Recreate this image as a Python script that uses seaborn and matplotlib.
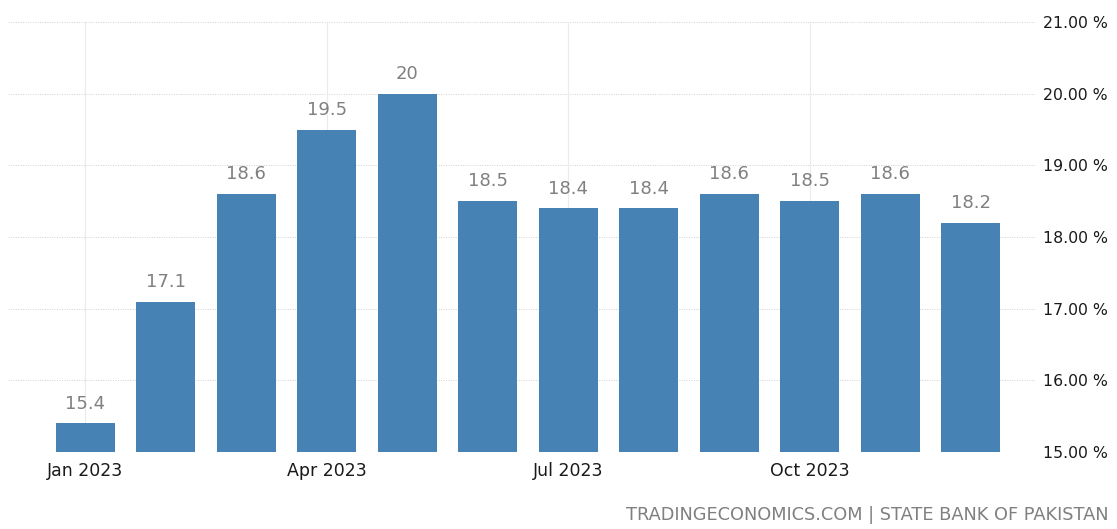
import matplotlib
matplotlib.use("Agg")
import matplotlib.pyplot as plt
import seaborn as sns
import pandas as pd

months = ["Jan 2023", "Feb 2023", "Mar 2023", "Apr 2023", "May 2023", "Jun 2023",
          "Jul 2023", "Aug 2023", "Sep 2023", "Oct 2023", "Nov 2023", "Dec 2023"]
values = [15.4, 17.1, 18.6, 19.5, 20.0, 18.5, 18.4, 18.4, 18.6, 18.5, 18.6, 18.2]
value_labels = ["15.4", "17.1", "18.6", "19.5", "20", "18.5", "18.4", "18.4", "18.6", "18.5", "18.6", "18.2"]
shown_ticks = ["Jan 2023", "Apr 2023", "Jul 2023", "Oct 2023"]
y_ticks = [15, 16, 17, 18, 19, 20, 21]
source = "TRADINGECONOMICS.COM | STATE BANK OF PAKISTAN"

df = pd.DataFrame({"month": months, "value": values})

sns.set_theme(style="white")
plt.rcParams["font.family"] = ["DejaVu Sans"]

W, H = 1117, 529
fig = plt.figure(figsize=(W / 100, H / 100), dpi=100)
ax = fig.add_axes([8 / W, 1 - 452 / H, (1035 - 8) / W, (452 - 22) / H])

sns.barplot(data=df, x="month", y="value", order=months, color="#4682b4",
            width=0.73, saturation=1, linewidth=0, ax=ax, zorder=3)

ax.set_ylim(15, 21)
ax.set_xlim(-0.96, 11.8)
ax.set_yticks(y_ticks)
ax.set_yticklabels([f"{t:.2f} %" for t in y_ticks])
ax.yaxis.tick_right()
ax.tick_params(axis="y", length=0, pad=6, labelsize=11.3, labelcolor="#1a1a1a")

idx = [months.index(m) for m in shown_ticks]
ax.set_xticks(idx)
ax.set_xticklabels(shown_ticks)
ax.tick_params(axis="x", length=0, pad=7, labelsize=12.5, labelcolor="#1a1a1a")

for t in y_ticks:
    ax.axhline(t, color="#d0d0d0", lw=0.7, ls=(0, (1, 1.5)), zorder=1)
for i in idx:
    ax.axvline(i, color="#ebebeb", lw=0.8, zorder=1)

for i, (v, lab) in enumerate(zip(values, value_labels)):
    ax.text(i, v + 0.15, lab, ha="center", va="bottom", fontsize=13, color="#808080")

for s in ax.spines.values():
    s.set_visible(False)
ax.set_xlabel("")
ax.set_ylabel("")

fig.text(1108 / W, 1 - 520 / H, source, ha="right", va="baseline", fontsize=12.8, color="#808080")

fig.savefig("out.png", dpi=100)
